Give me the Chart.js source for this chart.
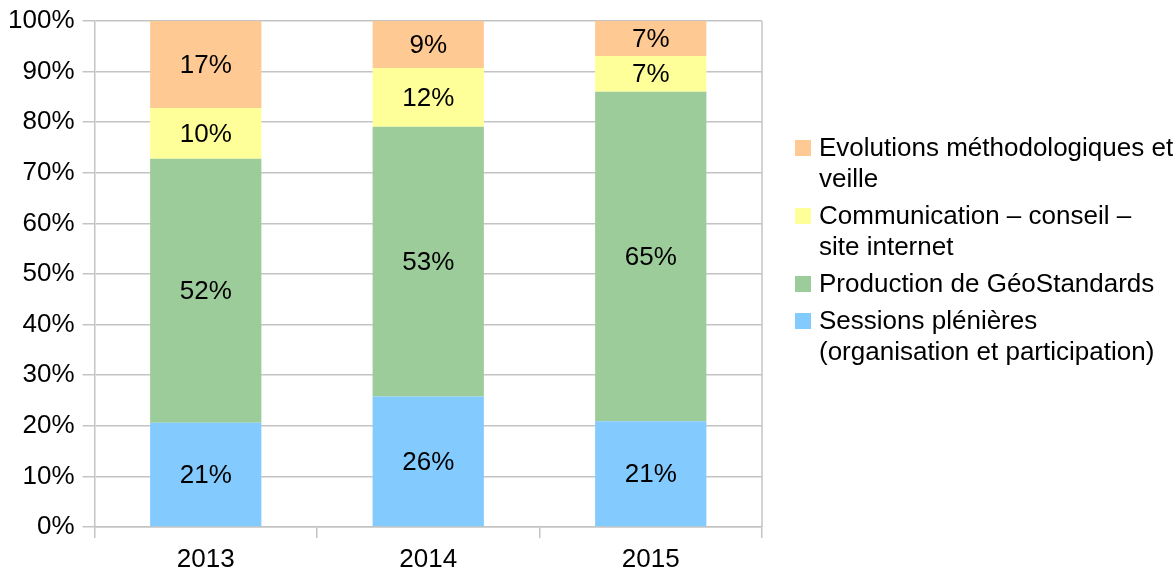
<!DOCTYPE html>
<html>
<head>
<meta charset="utf-8">
<script src="https://cdn.jsdelivr.net/npm/chart.js@4"></script>
<style>
  html, body { margin: 0; padding: 0; background: #fff; }
  #wrap { width: 1175px; height: 573px; }
</style>
</head>
<body>
<div id="wrap"><canvas id="myChart"></canvas></div>
<script>
const years = ['2013', '2014', '2015'];
const seriesNames = [
  'Sessions plénières\n(organisation et participation)',
  'Production de GéoStandards',
  'Communication – conseil –\nsite internet',
  'Evolutions méthodologiques et\nveille'
];
const sessions = [20.6, 25.8, 20.9];
const production = [52.2, 53.3, 65.1];
const communication = [10.0, 11.6, 7.1];
const evolutions = [17.2, 9.3, 6.9];
const yTicks = [0, 10, 20, 30, 40, 50, 60, 70, 80, 90, 100];

const colors = ['#83caff', '#9ccc99', '#ffff99', '#ffc993'];
const seriesValues = [sessions, production, communication, evolutions];
const font = 'Liberation Sans, Arial, sans-serif';
const fontSize = 26;

// labels inside each bar segment + right border + legend on the right
const extras = {
  id: 'extras',
  afterDatasetsDraw(chart) {
    const ctx = chart.ctx;
    ctx.save();
    ctx.font = fontSize + 'px ' + font;
    ctx.fillStyle = '#000';
    ctx.textAlign = 'center';
    ctx.textBaseline = 'middle';
    chart.data.datasets.forEach(function(ds, i) {
      chart.getDatasetMeta(i).data.forEach(function(bar, j) {
        const mid = (bar.y + bar.base) / 2;
        ctx.fillText(Math.round(ds.data[j]) + '%', bar.x, mid + 1);
      });
    });
    ctx.restore();
  },
  afterDraw(chart) {
    const ctx = chart.ctx;
    const area = chart.chartArea;
    ctx.save();
    ctx.strokeStyle = '#c4c4c4';
    ctx.lineWidth = 1.5;
    ctx.beginPath();
    ctx.moveTo(area.right, area.top);
    ctx.lineTo(area.right, area.bottom);
    ctx.stroke();

    // legend, top series first
    ctx.font = fontSize + 'px ' + font;
    ctx.textAlign = 'left';
    ctx.textBaseline = 'middle';
    let y = 148;
    for (let i = seriesNames.length - 1; i >= 0; i--) {
      const lines = seriesNames[i].split('\n');
      ctx.fillStyle = colors[i];
      ctx.fillRect(area.right + 33, y - 8, 16, 16);
      ctx.fillStyle = '#000';
      lines.forEach(function(line, k) {
        ctx.fillText(line, area.right + 57, y + 1 + k * 31);
      });
      y += (lines.length - 1) * 31 + 37;
    }
    ctx.restore();
  }
};

new Chart(document.getElementById('myChart'), {
  type: 'bar',
  data: {
    labels: years,
    datasets: seriesValues.map(function(vals, i) {
      return {
        label: seriesNames[i],
        data: vals,
        backgroundColor: colors[i],
        borderWidth: 0,
        barPercentage: 0.5,
        categoryPercentage: 1
      };
    })
  },
  options: {
    responsive: true,
    maintainAspectRatio: false,
    animation: false,
    layout: {
      padding: { left: 0, right: 413, top: 0, bottom: 0 }
    },
    plugins: {
      legend: { display: false },
      tooltip: { enabled: false }
    },
    scales: {
      x: {
        stacked: true,
        offset: true,
        afterFit: function(axis) { axis.height = 46; },
        grid: {
          offset: true,
          drawOnChartArea: false,
          color: '#c4c4c4',
          lineWidth: 1.5,
          tickLength: 11
        },
        border: { color: '#c4c4c4', width: 1.5 },
        ticks: {
          color: '#000',
          font: { family: font, size: fontSize, lineHeight: 1 },
          padding: 9
        }
      },
      y: {
        stacked: true,
        min: 0,
        max: 100,
        afterBuildTicks: function(axis) {
          axis.ticks = yTicks.map(function(v) { return { value: v }; });
        },
        grid: {
          color: '#c4c4c4',
          lineWidth: 1.5,
          tickLength: 12
        },
        border: { color: '#c4c4c4', width: 1.5 },
        ticks: {
          color: '#000',
          font: { family: font, size: fontSize, lineHeight: 1 },
          padding: 8,
          callback: function(v) { return v + '%'; }
        }
      }
    }
  },
  plugins: [extras]
});
</script>
</body>
</html>
